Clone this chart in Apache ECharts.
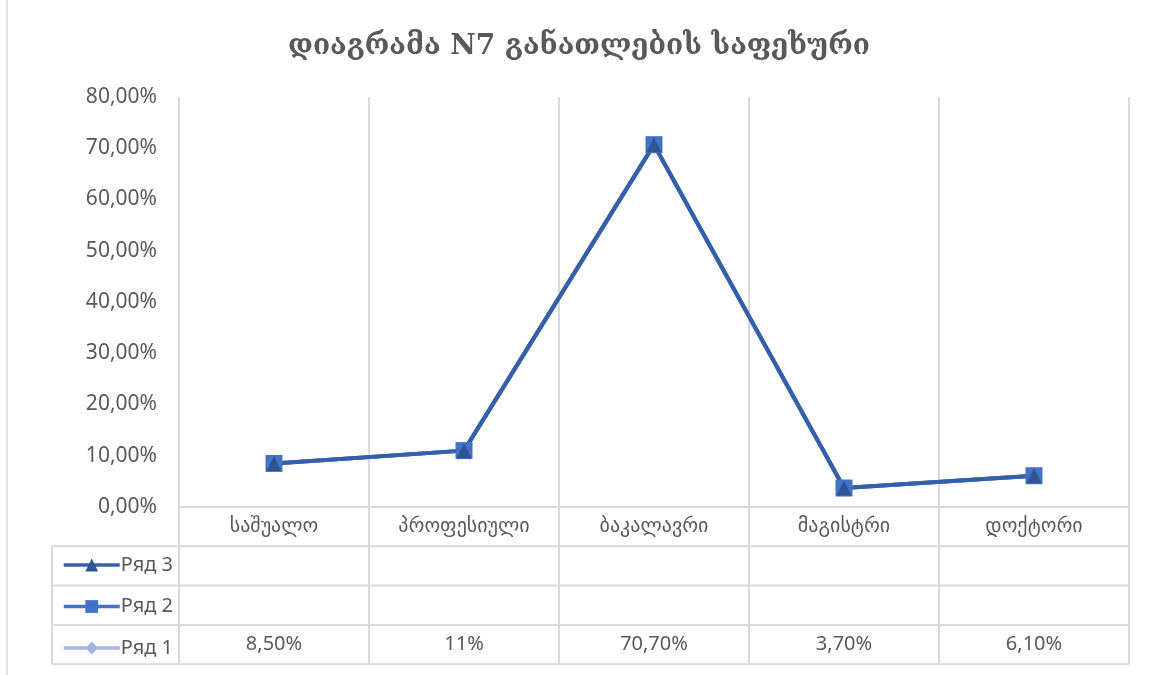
<!DOCTYPE html>
<html>
<head>
<meta charset="utf-8">
<script src="https://cdn.jsdelivr.net/npm/echarts@6/dist/echarts.min.js"></script>
<style>
  html, body { margin: 0; padding: 0; background: #fff; }
  #chart { width: 1158px; height: 675px; }
</style>
</head>
<body>
<div id="chart"></div>
<script>
// data
var categories = ["საშუალო", "პროფესიული", "ბაკალავრი", "მაგისტრი", "დოქტორი"];
var row1 = [0.085, 0.11, 0.707, 0.037, 0.061];
var row2 = [0.085, 0.11, 0.707, 0.037, 0.061];
var row3 = [0.085, 0.11, 0.707, 0.037, 0.061];
var row1Labels = ["8,50%", "11%", "70,70%", "3,70%", "6,10%"];

var textColor = "#595959";
var lineGray = "#d9d9d9";
var baseFont = "'Noto Sans', 'DejaVu Sans', sans-serif";

var chart = echarts.init(document.getElementById("chart"));

var option = {
  backgroundColor: "#fff",
  animation: false,
  title: {
    text: "დიაგრამა N7 განათლების საფეხური",
    left: "center",
    top: 28,
    textStyle: {
      fontFamily: "'DejaVu Serif', serif",
      fontSize: 28,
      fontWeight: "bold",
      color: textColor,
    },
  },
  legend: {
    data: ["Ряд 3", "Ряд 2", "Ряд 1"],
    orient: "vertical",
    left: 57,
    top: 550,
    itemWidth: 56,
    itemHeight: 16,
    itemGap: 21.5,
    lineStyle: { width: 3.5 },
    textStyle: { color: textColor, fontSize: 20, fontFamily: baseFont, lineHeight: 18, padding: [0, 0, 0, -4] },
    selectedMode: false,
  },
  grid: { left: 179, right: 29, top: 97, bottom: 168 },
  xAxis: {
    type: "category",
    data: categories,
    boundaryGap: true,
    axisLine: { lineStyle: { color: lineGray, width: 2 } },
    axisTick: { show: false },
    splitLine: { show: true, lineStyle: { color: lineGray, width: 2 } },
    axisLabel: {
      color: textColor,
      fontSize: 20,
      fontFamily: baseFont,
      margin: 9,
      interval: 0,
    },
  },
  yAxis: {
    type: "value",
    min: 0,
    max: 0.8,
    interval: 0.1,
    axisLine: { show: false },
    axisTick: { show: false },
    splitLine: { show: false },
    axisLabel: {
      color: textColor,
      fontSize: 21,
      fontFamily: baseFont,
      margin: 22,
      formatter: function (v) {
        return (v * 100).toFixed(2).replace(".", ",") + "%";
      },
    },
  },
  series: [
    {
      name: "Ряд 1",
      type: "line",
      data: row1,
      symbol: "diamond",
      symbolSize: 16,
      itemStyle: { color: "#a5b5de" },
      lineStyle: { color: "#a5b5de", width: 4 },
    },
    {
      name: "Ряд 2",
      type: "line",
      data: row2,
      symbol: "rect",
      symbolSize: 17,
      itemStyle: { color: "#4472c4" },
      lineStyle: { color: "#4472c4", width: 4 },
    },
    {
      name: "Ряд 3",
      type: "line",
      data: row3,
      symbol: "triangle",
      symbolSize: 15,
      itemStyle: { color: "#2f5597" },
      lineStyle: { color: "#3560a8", width: 4 },
    },
  ],
};
chart.setOption(option);

// data table under the plot, positioned from the category axis
function buildTable() {
  var c0 = chart.convertToPixel({ xAxisIndex: 0 }, 0);
  var c1 = chart.convertToPixel({ xAxisIndex: 0 }, 1);
  var band = c1 - c0;
  var x0 = c0 - band / 2;
  var x1 = x0 + band * categories.length;
  var yAxis0 = chart.convertToPixel({ yAxisIndex: 0 }, 0);
  var rowH = 39.3;
  var tableLeft = 52;
  var els = [];
  var ls = { stroke: lineGray, lineWidth: 2 };

  // outer chart border (left edge)
  els.push({ type: "line", shape: { x1: 7, y1: 0, x2: 7, y2: 675 }, style: { stroke: lineGray, lineWidth: 1.5 }, silent: true });

  // horizontal rules
  for (var r = 1; r <= 4; r++) {
    var y = yAxis0 + rowH * r;
    els.push({ type: "line", shape: { x1: tableLeft, y1: y, x2: x1, y2: y }, style: ls, silent: true });
  }
  // vertical rules
  for (var i = 0; i <= categories.length; i++) {
    var x = x0 + band * i;
    els.push({ type: "line", shape: { x1: x, y1: yAxis0, x2: x, y2: yAxis0 + rowH * 4 }, style: ls, silent: true });
  }
  els.push({ type: "line", shape: { x1: tableLeft, y1: yAxis0 + rowH, x2: tableLeft, y2: yAxis0 + rowH * 4 }, style: ls, silent: true });

  // values of Ряд 1
  for (var k = 0; k < row1Labels.length; k++) {
    els.push({
      type: "text",
      x: chart.convertToPixel({ xAxisIndex: 0 }, k),
      y: yAxis0 + rowH * 3.5,
      style: {
        text: row1Labels[k],
        fill: textColor,
        fontSize: 20,
        fontFamily: baseFont,
        align: "center",
        verticalAlign: "middle",
      },
      silent: true,
    });
  }
  chart.setOption({ graphic: els });
}
buildTable();
</script>
</body>
</html>
